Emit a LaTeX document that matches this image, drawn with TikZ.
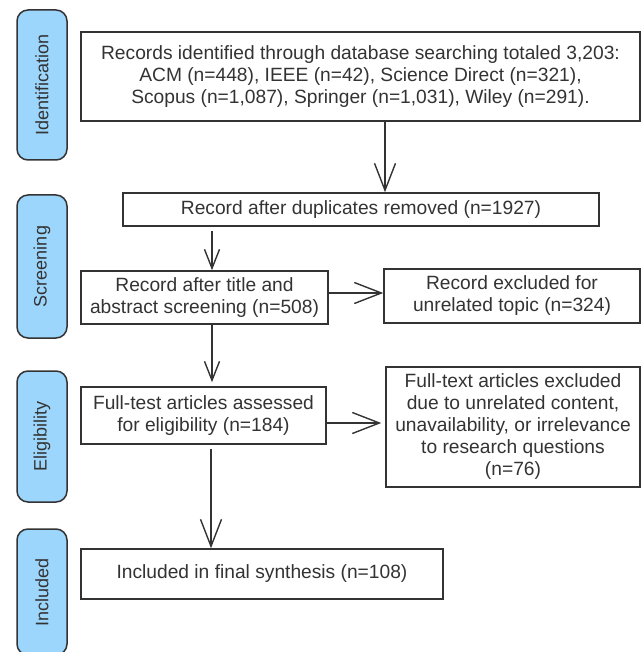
\documentclass[tikz,border=0pt]{standalone}
\usepackage{fontspec}
\setmainfont{Liberation Sans}
\usetikzlibrary{arrows.meta}
\definecolor{phasefill}{RGB}{157,214,252}
\definecolor{ink}{RGB}{51,51,51}
\tikzset{
  box/.style={draw=ink, line width=1.5pt, text=ink, align=center, inner sep=0pt,
    font=\fontsize{19.2}{22}\selectfont},
  phase/.style={draw=ink, line width=1.5pt, fill=phasefill, rounded corners=11pt,
    text=ink, rotate=90, inner sep=0pt, minimum height=50pt,
    font=\fontsize{18}{20}\selectfont},
  arr/.style={draw=ink, line width=1.4pt,
    -{Straight Barb[length=27pt,width=21pt,line width=1.4pt]}},
  shortarr/.style={draw=ink, line width=1.4pt,
    -{Straight Barb[length=19pt,width=15pt,line width=1.4pt]}}
}
\begin{document}
\begin{tikzpicture}[x=1pt,y=-1pt]
\clip (0,0) rectangle (641,652);
% phases
\node[phase, minimum width=150pt] (ident) at (42,85) {Identification};
\node[phase, minimum width=143pt] (screen) at (42,266.5) {Screening};
\node[phase, minimum width=131pt] (elig) at (42,436.5) {Eligibility};
\node[phase, minimum width=126pt] (incl) at (42,592) {Included};
% boxes
\node[box, minimum width=559pt, minimum height=89pt] (found) at (360.5,76.5)
  {Records identified through database searching totaled 3,203:\\
   ACM (n=448), IEEE (n=42), Science Direct (n=321),\\
   Scopus (n=1,087), Springer (n=1,031), Wiley (n=291).};
\node[box, minimum width=476pt, minimum height=33pt] (dupl) at (361,209.5)
  {Record after duplicates removed (n=1927)};
\node[box, minimum width=247pt, minimum height=53pt] (title) at (204.5,297.5)
  {Record after title and\\abstract screening (n=508)};
\node[box, minimum width=256pt, minimum height=54pt] (topic) at (512,296)
  {Record excluded for\\unrelated topic (n=324)};
\node[box, minimum width=245pt, minimum height=57pt] (full) at (203.5,415.5)
  {Full-test articles assessed\\for eligibility (n=184)};
\node[box, minimum width=254pt, minimum height=120pt] (drop) at (513,427)
  {Full-text articles excluded\\due to unrelated content,\\unavailability, or irrelevance\\to research questions\\(n=76)};
\node[box, minimum width=362pt, minimum height=50pt] (final) at (262,574)
  {Included in final synthesis (n=108)};
% arrows
\draw[arr] (found.south -| 385,0) -- (dupl.north -| 385,0);
\draw[shortarr, shorten <=4pt] (dupl.south -| 212,0) -- (title.north -| 212,0);
\draw[arr] (title.east |- 0,293) -- (topic.west |- 0,293);
\draw[shortarr, shorten >=4pt] (title.south -| 212,0) -- (full.north -| 212,0);
\draw[arr, shorten >=4pt] (full.east |- 0,423) -- (drop.west |- 0,423);
\draw[arr, shorten <=4pt] (full.south -| 211,0) -- (final.north -| 211,0);
\end{tikzpicture}
\end{document}
